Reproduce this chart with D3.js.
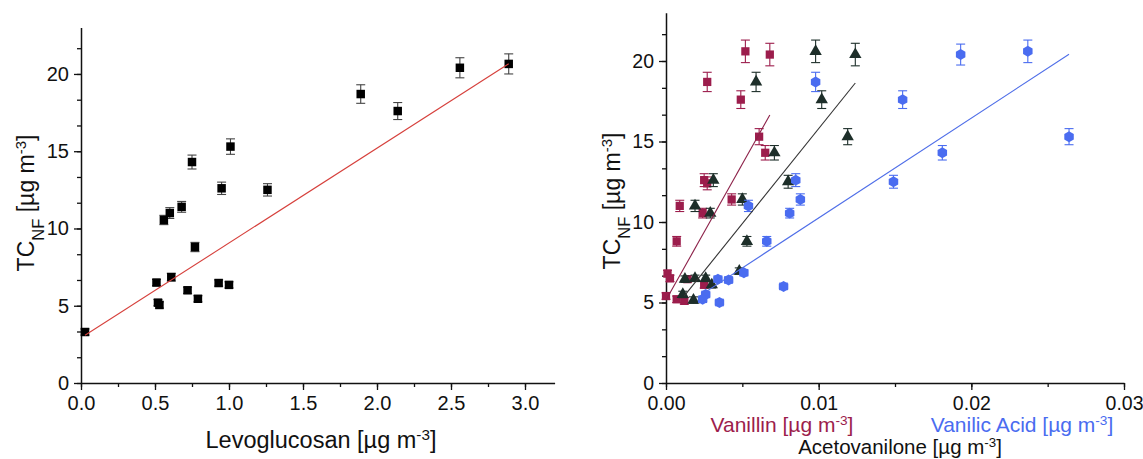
<!DOCTYPE html>
<html>
<head>
<meta charset="utf-8">
<script src="https://cdn.jsdelivr.net/npm/d3@7"></script>
<style>
  body { margin: 0; background: #fff; }
  svg text { font-family: "Liberation Sans", Arial, sans-serif; }
</style>
</head>
<body>
<div id="chart"></div>
<script>

// ---- data ----
// left panel: levoglucosan vs TC_NF
var levoX   = [0.027, 0.51, 0.52, 0.53, 0.61, 0.56, 0.60, 0.68, 0.75, 0.77, 0.72, 0.79, 0.93, 1.00, 0.95, 1.01, 1.26, 1.89, 2.14, 2.56, 2.89];
var levoY   = [3.3, 6.5, 5.2, 5.05, 6.85, 10.55, 11.0, 11.4, 14.3, 8.8, 6.0, 5.45, 6.47, 6.35, 12.6, 15.3, 12.5, 18.7, 17.6, 20.4, 20.65];
var levoErr = [0.2, 0.2, 0.2, 0.2, 0.25, 0.3, 0.35, 0.35, 0.45, 0.3, 0.2, 0.2, 0.2, 0.2, 0.4, 0.5, 0.4, 0.6, 0.55, 0.65, 0.65];
var levoFit = {slope: 6.14, intercept: 2.92, from: 0.027, to: 2.89};

// right panel: vanillin
var vanX   = [0.0009, 0.0024, 0.0025, 0.0027, 0.0027, 0.0043, 0.0049, 0.0052, 0.0061, 0.0065, 0.0068, 0.0007, 0.0001, 0.00026, 0.0, 0.0007, 0.0012, 0.0014, 0.0025];
var vanY   = [11.0, 10.55, 12.6, 12.4, 18.7, 11.4, 17.6, 20.6, 15.3, 14.3, 20.4, 8.8, 6.8, 6.5, 5.4, 5.2, 5.1, 6.45, 6.1];
var vanErr = [0.35, 0.3, 0.4, 0.4, 0.6, 0.35, 0.55, 0.7, 0.5, 0.45, 0.7, 0.3, 0.2, 0.2, 0.2, 0.2, 0.2, 0.2, 0.2];
var vanFit = {slope: 1690, intercept: 5.15, from: 0.0, to: 0.0068};

// right panel: acetovanilone
var acetX   = [0.0019, 0.0029, 0.0031, 0.0050, 0.0059, 0.0071, 0.0080, 0.0098, 0.0102, 0.0119, 0.0124, 0.0053, 0.0011, 0.00124, 0.0019, 0.0018, 0.0026, 0.0030, 0.0048];
var acetY   = [11.0, 10.55, 12.6, 11.4, 18.7, 14.3, 12.5, 20.6, 17.6, 15.3, 20.4, 8.8, 5.5, 6.45, 6.5, 5.15, 6.5, 6.1, 6.95];
var acetErr = [0.35, 0.3, 0.4, 0.35, 0.6, 0.45, 0.4, 0.7, 0.55, 0.5, 0.7, 0.3, 0.2, 0.2, 0.2, 0.2, 0.2, 0.2, 0.2];
var acetFit = {slope: 1180, intercept: 4.0, from: 0.0012, to: 0.0124};

// right panel: vanilic acid
var vacX   = [0.0054, 0.0085, 0.0088, 0.0081, 0.0098, 0.0155, 0.0193, 0.0237, 0.0181, 0.0149, 0.0264, 0.0066, 0.0034, 0.0041, 0.0051, 0.0077, 0.0035, 0.0026, 0.0024];
var vacY   = [11.0, 12.6, 11.4, 10.55, 18.7, 17.6, 20.4, 20.6, 14.3, 12.5, 15.3, 8.8, 6.45, 6.4, 6.85, 6.0, 5.0, 5.5, 5.2];
var vacErr = [0.35, 0.4, 0.35, 0.3, 0.6, 0.55, 0.65, 0.7, 0.45, 0.4, 0.5, 0.3, 0.2, 0.2, 0.2, 0.2, 0.2, 0.2, 0.2];
var vacFit = {slope: 620, intercept: 4.05, from: 0.0024, to: 0.0264};

var yTicks = [0, 5, 10, 15, 20];
var levoTicks = [0.0, 0.5, 1.0, 1.5, 2.0, 2.5, 3.0];
var rightTicks = [0.00, 0.01, 0.02, 0.03];

// colours
var cMaroon = "#9c1d4c", cDark = "#1d2e29", cBlue = "#4a6cf0";

var svg = d3.select("#chart")
    .append("svg")
    .attr("width", 1143)
    .attr("height", 459);

// scales
var xL = d3.scaleLinear().domain([0, 3.2]).range([81, 554.6]);
var yL = d3.scaleLinear().domain([0, 23]).range([383, 27.6]);
var xR = d3.scaleLinear().domain([0, 0.03]).range([666, 1124]);
var yR = d3.scaleLinear().domain([0, 23]).range([383, 12.7]);

function zip(xs, ys, es) {
    return xs.map(function(v, i) { return {x: v, y: ys[i], e: es[i]}; });
}

// draw axes with major + minor ticks
function drawAxes(x, y, xTicks, xMinor, xFmt, fontSize) {
    var gx = svg.append("g").attr("transform", "translate(0," + y.range()[0] + ")");
    gx.call(d3.axisBottom(x).tickValues(xMinor).tickSize(4).tickSizeOuter(0).tickFormat(""));
    gx.append("g").call(d3.axisBottom(x).tickValues(xTicks).tickSize(7).tickPadding(6).tickFormat(xFmt));
    var gy = svg.append("g").attr("transform", "translate(" + x.range()[0] + ",0)");
    gy.call(d3.axisLeft(y).tickValues(d3.range(0, 23, 5 / 3)).tickSize(4).tickSizeOuter(0).tickFormat(""));
    gy.append("g").call(d3.axisLeft(y).tickValues(yTicks).tickSize(7).tickPadding(5).tickFormat(d3.format("d")));
    [gx, gy].forEach(function(g) {
        g.selectAll("path").attr("stroke", "#111").attr("stroke-width", 1.5);
        g.selectAll("line").attr("stroke", "#111").attr("stroke-width", 1.3);
        g.selectAll("text").attr("fill", "#111").style("font-size", fontSize + "px")
            .style("font-family", "'Liberation Sans', Arial, sans-serif");
    });
    gx.selectAll("g > g > path.domain").remove();
    gy.selectAll("g > g > path.domain").remove();
}

drawAxes(xL, yL, levoTicks, d3.range(0, 3.21, 0.25), d3.format(".1f"), 20);
drawAxes(xR, yR, rightTicks, d3.range(0, 0.0301, 0.005), d3.format(".2f"), 19.5);

// hexagon symbol
var symbolHex = {
    draw: function(ctx, size) {
        var r = Math.sqrt(size / 2.598);
        for (var i = 0; i < 6; i++) {
            var a = Math.PI / 3 * i - Math.PI / 2;
            if (i === 0) ctx.moveTo(r * Math.cos(a), r * Math.sin(a));
            else ctx.lineTo(r * Math.cos(a), r * Math.sin(a));
        }
        ctx.closePath();
    }
};

function drawSeries(data, x, y, color, barColor, symbolType, size) {
    var g = svg.append("g");
    var bars = g.selectAll(".err")
        .data(data)
        .enter()
        .append("g")
        .attr("stroke", barColor)
        .attr("stroke-width", 1.1);
    bars.append("line")
        .attr("x1", function(d) { return x(d.x); })
        .attr("x2", function(d) { return x(d.x); })
        .attr("y1", function(d) { return y(d.y - d.e); })
        .attr("y2", function(d) { return y(d.y + d.e); });
    bars.append("line")
        .attr("x1", function(d) { return x(d.x) - 4.5; })
        .attr("x2", function(d) { return x(d.x) + 4.5; })
        .attr("y1", function(d) { return y(d.y + d.e); })
        .attr("y2", function(d) { return y(d.y + d.e); });
    bars.append("line")
        .attr("x1", function(d) { return x(d.x) - 4.5; })
        .attr("x2", function(d) { return x(d.x) + 4.5; })
        .attr("y1", function(d) { return y(d.y - d.e); })
        .attr("y2", function(d) { return y(d.y - d.e); });
    g.selectAll(".pt")
        .data(data)
        .enter()
        .append("path")
        .attr("d", d3.symbol().type(symbolType).size(size))
        .attr("transform", function(d) { return "translate(" + x(d.x) + "," + y(d.y) + ")"; })
        .attr("fill", color);
}

function drawFit(fit, x, y, color) {
    var pts = [fit.from, fit.to].map(function(v) { return [v, fit.intercept + fit.slope * v]; });
    svg.append("path")
        .datum(pts)
        .attr("d", d3.line().x(function(d) { return x(d[0]); }).y(function(d) { return y(d[1]); }))
        .attr("stroke", color)
        .attr("stroke-width", 1.1)
        .attr("fill", "none");
}

// left panel
drawSeries(zip(levoX, levoY, levoErr), xL, yL, "#000", "#444", d3.symbolSquare, 72);
drawFit(levoFit, xL, yL, "#d6403c");

// right panel
drawSeries(zip(vanX, vanY, vanErr), xR, yR, cMaroon, cMaroon, d3.symbolSquare, 68);
drawSeries(zip(acetX, acetY, acetErr), xR, yR, cDark, cDark, d3.symbolTriangle, 66);
drawSeries(zip(vacX, vacY, vacErr), xR, yR, cBlue, cBlue, symbolHex, 78);
drawFit(vanFit, xR, yR, "#8c2048");
drawFit(acetFit, xR, yR, "#333");
drawFit(vacFit, xR, yR, "#4f6ee8");

// axis labels
function unitLabel(g, name, color) {
    var t = g.append("text").attr("fill", color);
    t.append("tspan").text(name + " [µg m");
    t.append("tspan").attr("baseline-shift", "super").style("font-size", "65%").text("-3");
    t.append("tspan").text("]");
    return t;
}

function yLabel(xPos, yPos, size) {
    var t = svg.append("text")
        .attr("transform", "translate(" + xPos + "," + yPos + ") rotate(-90)")
        .attr("text-anchor", "middle")
        .style("font-size", size + "px")
        .attr("fill", "#111");
    t.append("tspan").text("TC");
    t.append("tspan").attr("baseline-shift", "sub").style("font-size", "72%").text("NF");
    t.append("tspan").text(" [µg m");
    t.append("tspan").attr("baseline-shift", "super").style("font-size", "65%").text("-3");
    t.append("tspan").text("]");
}

yLabel(34, 203, 23);
yLabel(620, 201, 23);

unitLabel(svg, "Levoglucosan", "#111")
    .attr("x", 321).attr("y", 448).attr("text-anchor", "middle").style("font-size", "23.5px");
unitLabel(svg, "Vanillin", cMaroon)
    .attr("x", 782).attr("y", 432).attr("text-anchor", "middle").style("font-size", "21px");
unitLabel(svg, "Vanilic Acid", cBlue)
    .attr("x", 1022).attr("y", 432).attr("text-anchor", "middle").style("font-size", "21px");
unitLabel(svg, "Acetovanilone", "#111")
    .attr("x", 900).attr("y", 454).attr("text-anchor", "middle").style("font-size", "20.5px");

</script>
</body>
</html>
